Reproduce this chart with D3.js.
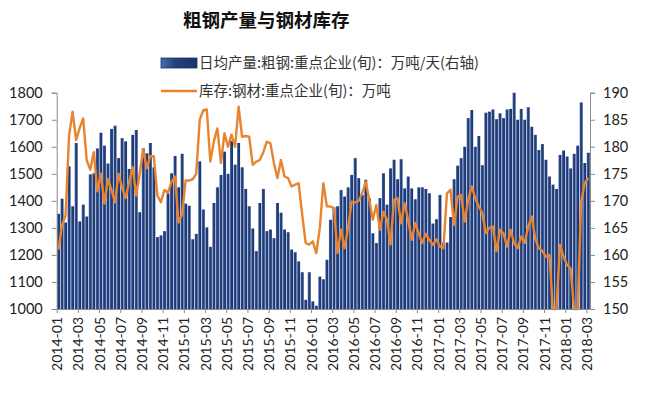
<!DOCTYPE html>
<html>
<head>
<meta charset="utf-8">
<script src="https://cdn.jsdelivr.net/npm/d3@7"></script>
<style>
  body { margin: 0; background: #fff; }
  .axis path, .axis line { stroke: #8c8c8c; }
  .axis text { font-family: Lato, "Liberation Sans", sans-serif; fill: #222; }
</style>
</head>
<body>
<script>
// ten-day (旬) periods, 2014-01 上旬 .. 2018-03 上旬
var months = [];
for (var y = 2014; y <= 2018; y++) {
    for (var m = 1; m <= 12; m++) {
        if (y === 2018 && m > 3) break;
        months.push(y + "-" + (m < 10 ? "0" + m : m));
    }
}
var periods = [];
months.forEach(function(mo) { ["上旬", "中旬", "下旬"].forEach(function(p) { periods.push(mo + p); }); });
periods = periods.slice(0, 151);

var tickLabels = ["2014-01","2014-03","2014-05","2014-07","2014-09","2014-11",
    "2015-01","2015-03","2015-05","2015-07","2015-09","2015-11",
    "2016-01","2016-03","2016-05","2016-07","2016-09","2016-11",
    "2017-01","2017-03","2017-05","2017-07","2017-09","2017-11",
    "2018-01","2018-03"];

// 日均产量:粗钢:重点企业(旬), 万吨/天 (right axis)
var output = [
    167.6,170.4,166.0,176.4,169.0,180.7,166.2,169.3,167.1,174.9,175.1,179.7,
    182.6,180.2,176.9,183.3,183.9,177.9,181.6,181.0,175.9,182.2,183.1,167.9,
    179.7,178.8,180.7,176.2,163.3,163.6,164.4,171.4,175.1,178.3,172.5,178.7,
    169.5,169.1,162.9,163.9,177.3,168.4,165.1,161.5,169.6,172.5,174.8,179.1,
    175.0,181.1,176.7,180.7,176.2,172.2,169.0,164.9,160.7,169.6,172.2,164.4,
    164.7,163.1,169.6,167.8,164.7,164.2,161.0,160.5,158.8,156.8,151.7,156.8,
    151.4,150.6,156.0,155.5,159.1,166.5,168.8,169.0,172.0,170.8,172.5,174.8,
    177.9,174.2,171.1,173.9,170.5,164.0,162.2,170.5,175.1,169.3,176.0,177.6,
    174.0,177.7,172.3,174.5,172.3,170.3,172.5,172.5,172.2,171.4,165.8,166.6,
    171.1,162.3,162.3,167.0,174.0,176.5,177.9,180.0,185.3,186.8,180.0,182.0,
    176.6,186.3,186.5,186.9,185.1,186.2,185.3,186.9,187.0,190.0,185.0,187.0,
    185.0,187.3,183.7,182.2,179.4,180.5,177.6,174.5,173.0,172.2,178.5,179.3,
    178.2,176.0,178.7,180.2,188.2,177.0,178.9
];

// 库存:钢材:重点企业(旬), 万吨 (left axis)
var stock = [
    1220,1310,1345,1640,1730,1625,1670,1705,1550,1515,1580,1435,
    1500,1390,1480,1440,1395,1500,1450,1410,1470,1525,1420,1500,
    1590,1520,1565,1565,1420,1395,1440,1430,1470,1490,1320,1350,
    1475,1475,1480,1500,1700,1735,1738,1545,1620,1668,1540,1650,
    1600,1645,1600,1748,1637,1640,1637,1533,1545,1551,1580,1619,
    1613,1540,1484,1551,1490,1484,1453,1460,1465,1350,1244,1238,
    1250,1207,1300,1465,1380,1379,1373,1207,1293,1225,1300,1397,
    1394,1400,1428,1471,1404,1330,1385,1293,1360,1330,1238,1404,
    1410,1317,1391,1330,1256,1318,1281,1244,1278,1256,1237,1258,
    1231,1225,1428,1441,1311,1416,1422,1323,1403,1453,1410,1380,
    1354,1281,1300,1305,1213,1293,1280,1231,1293,1244,1225,1268,
    1244,1305,1342,1260,1225,1215,1194,1200,1000,1000,1238,1194,
    1163,1150,1000,1000,1397,1465,1484
];

var leftTicks = [1000,1100,1200,1300,1400,1500,1600,1700,1800];
var rightTicks = [150,155,160,165,170,175,180,185,190];

var W = 645, H = 393;
var plot = {left: 56.7, right: 590, top: 92.7, bottom: 309};

var svg = d3.select("body").append("svg")
    .attr("width", W)
    .attr("height", H);

var defs = svg.append("defs");
var grad = defs.append("linearGradient").attr("id", "barGrad")
    .attr("x1", "0").attr("x2", "1").attr("y1", "0").attr("y2", "0");
grad.append("stop").attr("offset", "0%").attr("stop-color", "#4a6cb0");
grad.append("stop").attr("offset", "40%").attr("stop-color", "#22407f");
grad.append("stop").attr("offset", "100%").attr("stop-color", "#1a3268");

// scales
var x = d3.scaleBand()
    .domain(d3.range(periods.length))
    .range([plot.left, plot.right])
    .paddingInner(0.16)
    .paddingOuter(0.08);
var xTick = d3.scaleLinear()
    .domain([0, periods.length])
    .range([plot.left, plot.right]);
var yL = d3.scaleLinear().domain([1000, 1800]).range([plot.bottom, plot.top]);
var yR = d3.scaleLinear().domain([150, 190]).range([plot.bottom, plot.top]);

// bars
svg.append("g").selectAll("rect")
    .data(output)
    .enter().append("rect")
    .attr("x", function(d, i) { return x(i); })
    .attr("width", x.bandwidth())
    .attr("y", function(d) { return yR(d); })
    .attr("height", function(d) { return yR(150) - yR(d); })
    .attr("fill", "url(#barGrad)");

// line
var line = d3.line()
    .x(function(d, i) { return x(i) + x.bandwidth() / 2; })
    .y(function(d) { return yL(Math.max(1000, d)); });

svg.append("path")
    .datum(stock)
    .attr("fill", "none")
    .attr("stroke", "#e8832f")
    .attr("stroke-width", 2.4)
    .attr("stroke-linejoin", "round")
    .attr("d", line);

// axes
var yaxisL = d3.axisLeft(yL).tickValues(leftTicks).tickFormat(d3.format("d")).tickSize(5).tickPadding(9);
var yaxisR = d3.axisRight(yR).tickValues(rightTicks).tickFormat(d3.format("d")).tickSize(5).tickPadding(8);
var xaxis = d3.axisBottom(xTick)
    .tickValues(d3.range(0, periods.length, 6))
    .tickFormat(function(d, k) { return tickLabels[k]; })
    .tickSize(4)
    .tickSizeOuter(0);

svg.append("g").attr("class", "axis")
    .attr("transform", "translate(" + plot.left + ",0)")
    .call(yaxisL)
    .selectAll("text").style("font-size", "14.5px");

svg.append("g").attr("class", "axis")
    .attr("transform", "translate(" + plot.right + ",0)")
    .call(yaxisR)
    .selectAll("text").style("font-size", "14.5px");

var gx = svg.append("g").attr("class", "axis")
    .attr("transform", "translate(0," + plot.bottom + ")")
    .call(xaxis);
gx.selectAll("text")
    .style("font-size", "14px")
    .style("text-anchor", "end")
    .attr("transform", "rotate(-90)")
    .attr("x", -8)
    .attr("y", 0)
    .attr("dy", "0.36em");

// title
svg.append("text")
    .attr("x", 183)
    .attr("y", 27)
    .style("font-family", "'Noto Sans CJK SC', sans-serif")
    .style("font-size", "18.5px")
    .style("font-weight", "bold")
    .style("fill", "#111")
    .text("粗钢产量与钢材库存");

// legend
var lg = svg.append("g")
    .style("font-family", "'Noto Sans CJK SC', sans-serif")
    .style("font-size", "14.5px")
    .style("fill", "#333");
lg.append("rect")
    .attr("x", 161).attr("y", 58).attr("width", 36).attr("height", 10)
    .attr("fill", "url(#barGrad)")
    .attr("stroke", "#1a3268").attr("stroke-width", 0.8);
lg.append("text").attr("x", 199).attr("y", 68)
    .text("日均产量:粗钢:重点企业(旬)：万吨/天(右轴)");
lg.append("line")
    .attr("x1", 161).attr("x2", 197).attr("y1", 91).attr("y2", 91)
    .attr("stroke", "#e8832f").attr("stroke-width", 2.4);
lg.append("text").attr("x", 199).attr("y", 96)
    .text("库存:钢材:重点企业(旬)：万吨");
</script>
</body>
</html>
